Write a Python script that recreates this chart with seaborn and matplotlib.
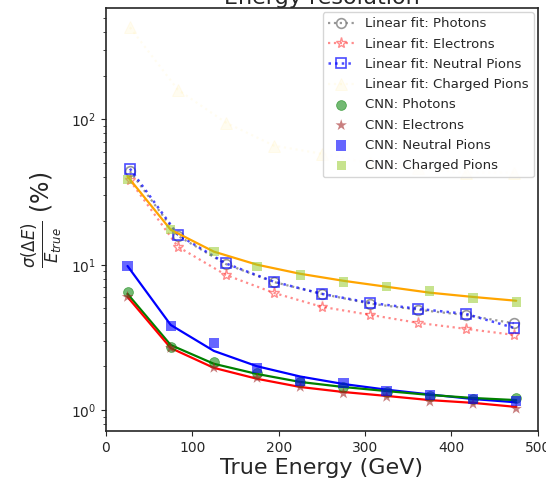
import numpy as np
import pandas as pd
import matplotlib
matplotlib.use("Agg")
import matplotlib.pyplot as plt
import seaborn as sns

# bin centres
cnn_energy = [25, 75, 125, 175, 225, 275, 325, 375, 425, 475]
lin_energy = [27.8, 83.3, 138.9, 194.4, 250.0, 305.6, 361.1, 416.7, 472.2]

# CNN resolution points (%)
cnn_photons = [6.5, 2.72, 2.14, 1.80, 1.56, 1.44, 1.32, 1.24, 1.19, 1.21]
cnn_electrons = [6.0, 2.67, 1.95, 1.66, 1.44, 1.30, 1.23, 1.14, 1.10, 1.02]
cnn_neutral = [9.8, 3.8, 2.9, 1.95, 1.59, 1.53, 1.35, 1.27, 1.19, 1.15]
cnn_charged = [38.5, 17.4, 12.3, 9.7, 8.5, 7.6, 7.05, 6.6, 5.9, 5.55]

# CNN fitted curves
fit_photons = [6.3, 2.8, 2.08, 1.77, 1.56, 1.44, 1.35, 1.27, 1.21, 1.17]
fit_electrons = [6.0, 2.67, 1.95, 1.64, 1.44, 1.33, 1.25, 1.17, 1.12, 1.05]
fit_neutral = [9.8, 3.85, 2.55, 2.0, 1.70, 1.51, 1.38, 1.28, 1.19, 1.13]
fit_charged = [40.5, 17.4, 12.3, 10.0, 8.66, 7.75, 7.05, 6.42, 6.0, 5.65]

# linear fit resolution (%)
lin_photons = [44.0, 15.8, 10.1, 7.6, 6.3, 5.4, 4.9, 4.5, 3.95]
lin_electrons = [38.0, 13.3, 8.5, 6.4, 5.13, 4.52, 3.98, 3.62, 3.29]
lin_neutral = [45.8, 16.1, 10.2, 7.64, 6.3, 5.47, 4.97, 4.59, 3.68]
lin_charged = [430, 160, 95, 66, 58, 50, 46, 43, 43]

sns.set_style("ticks")

fig = plt.figure(figsize=(5.46, 4.79), dpi=100)
ax = fig.add_axes([0.194, 0.100, 0.791, 0.883])

# linear fit points with dotted lines
sns.lineplot(x=lin_energy, y=lin_photons, ax=ax, color="gray", ls=":",
             lw=1.6, marker="o", ms=7, mfc="none", mec="gray", mew=1.2,
             label="Linear fit: Photons", alpha=0.8)
sns.lineplot(x=lin_energy, y=lin_electrons, ax=ax, color="red", ls=":",
             lw=1.6, marker="*", ms=8, mfc="none", mec="red", mew=1.0,
             label="Linear fit: Electrons", alpha=0.45)
sns.lineplot(x=lin_energy, y=lin_neutral, ax=ax, color="blue", ls=":",
             lw=1.8, marker="s", ms=7, mfc="none", mec="blue", mew=1.2,
             label="Linear fit: Neutral Pions", alpha=0.7)
sns.lineplot(x=lin_energy, y=lin_charged, ax=ax, color="gold", ls=":",
             lw=1.6, marker="^", ms=8, mfc="gold", mec="gold",
             label="Linear fit: Charged Pions", alpha=0.06)

# solid fit curves (not in legend)
for vals, col in [(fit_neutral, "blue"), (fit_photons, "green"),
                  (fit_electrons, "red"), (fit_charged, "orange")]:
    sns.lineplot(x=cnn_energy, y=vals, color=col, lw=1.6, ax=ax,
                 legend=False, zorder=2.5)

# CNN points
sns.scatterplot(x=cnn_energy, y=cnn_photons, ax=ax, color="green", marker="o",
                s=50, alpha=0.55, edgecolor="green", label="CNN: Photons", zorder=3)
sns.scatterplot(x=cnn_energy, y=cnn_electrons, ax=ax, color="brown", marker="*",
                s=75, alpha=0.6, edgecolor="none", label="CNN: Electrons", zorder=3)
sns.scatterplot(x=cnn_energy, y=cnn_neutral, ax=ax, color="blue", marker="s",
                s=55, alpha=0.6, edgecolor="none", label="CNN: Neutral Pions", zorder=3)
sns.scatterplot(x=cnn_energy, y=cnn_charged, ax=ax, color="yellowgreen", marker="s",
                s=45, alpha=0.55, edgecolor="none", label="CNN: Charged Pions", zorder=3)

ax.set_yscale("log")
ax.set_xlim(0, 500)
ax.set_ylim(0.716, 583)
ax.tick_params(labelsize=10, direction="out")
ax.set_xlabel("True Energy (GeV)", fontsize=16, labelpad=2)
ax.set_ylabel(r"$\frac{\sigma(\Delta E)}{E_{true}}$ (%)", fontsize=17)
ax.set_title("Energy resolution", fontsize=16, pad=1)
for sp in ax.spines.values():
    sp.set_linewidth(1.2)

leg = ax.legend(loc="upper right", fontsize=9.5, frameon=True,
                handlelength=2.0, borderaxespad=0.3, labelspacing=0.55)

fig.savefig("out.png", dpi=100)
